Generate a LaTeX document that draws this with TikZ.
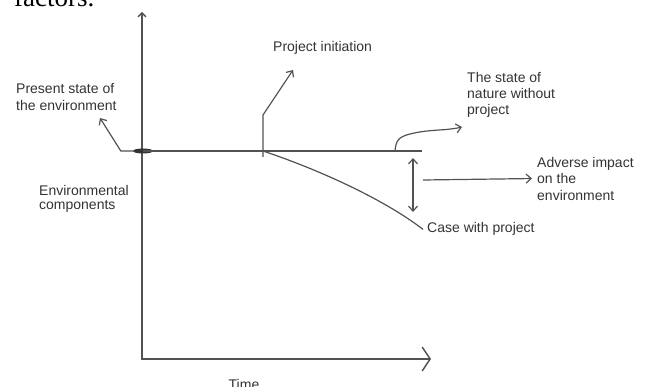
\documentclass[tikz,border=0pt]{standalone}
\usepackage{fontspec}
\setmainfont{Liberation Sans}
\newfontfamily\bookface{Liberation Serif}
\usetikzlibrary{arrows.meta}
\usetikzlibrary{shapes.geometric}
\tikzset{
	note/.style={anchor=north west, align=left, inner sep=0pt, text=black!80, font=\fontsize{14}{#1}\selectfont},
	note/.default={17},
	barb/.style={-{Straight Barb[length=5pt, width=9pt]}},
	line/.style={draw=black!68, line width=1.2pt}
}

\begin{document}
\begin{tikzpicture}[x=1pt, y=-1pt]
	\useasboundingbox (0,0) rectangle (648,387);
	% --- text cut off at the top ---
	\node[anchor=base west, inner sep=0pt, font=\bookface\fontsize{27}{30}\selectfont] (factors) at (14,7) {factors.};

	% --- axes ---
	\coordinate (ytop) at (142,12);
	\coordinate (origin) at (142,359);
	\coordinate (xend) at (431,359);
	\draw[line, line width=1.4pt, {Straight Barb[length=4pt, width=8pt]}-{Straight Barb[length=8pt, width=24pt]}] (ytop) -- (origin) -- (xend);
	\node[anchor=base, inner sep=0pt, text=black!80, font=\fontsize{14}{17}\selectfont] (time) at (244,389) {Time};
	\node[note=14] (components) at (39,185.5) {Environmental\\components};

	% --- state line ---
	\node[ellipse, fill=black!80, inner sep=0pt, minimum width=20pt, minimum height=5pt] (now) at (143,151) {};
	\coordinate (start) at (263,151);
	\coordinate (split) at (395,151);
	\draw[line] (now.center) -- (422,151);
	\node[note] (present) at (16,82.7) {Present state of\\the environment};
	\draw[line, barb] (now.west) -- ++(-12,0) -- (100,118);

	% --- project ---
	\node[note] (initiation) at (273,40.7) {Project initiation};
	\draw[line, barb] ([yshift=-6pt]start) -- (263,115) -- (293,70);
	\node[anchor=base west, inner sep=0pt, text=black!80, font=\fontsize{14}{17}\selectfont] (case) at (427,233) {Case with project};
	\draw[line] (start) .. controls (320,170) and (385,200) .. ([xshift=-4pt]case.west);

	\node[note=16] (nature) at (467,71.7) {The state of\\nature without\\project};
	\coordinate (natureTip) at (462,127);
	\draw[line, barb] (split) .. controls (396,141) and (398,137) .. (410,134) .. controls (430,129) and (445,131) .. (natureTip);

	% --- impact ---
	\coordinate (gapTop) at (413,158);
	\coordinate (gapBot) at (413,212);
	\draw[line, {Straight Barb[length=5pt, width=9pt]}-{Straight Barb[length=5pt, width=9pt]}] (gapTop) -- (gapBot);
	\node[note=16.5] (adverse) at (537,156.7) {Adverse impact\\on the\\environment};
	\coordinate (gapMid) at (423,180);
	\draw[line, barb] (gapMid) -- ([xshift=-5pt]adverse.west);
\end{tikzpicture}
\end{document}
